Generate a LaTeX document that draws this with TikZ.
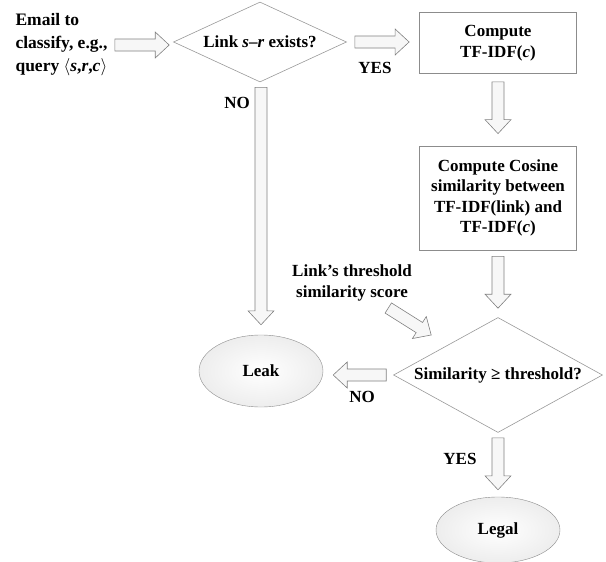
\documentclass[tikz,border=0pt]{standalone}
\usepackage{fontspec}
\setmainfont{Liberation Serif}
\usetikzlibrary{shapes.geometric,calc,positioning}

\begin{document}
\begin{tikzpicture}[
  x=1pt, y=-1pt,
  font=\fontsize{17}{20.5}\selectfont\bfseries,
  proc/.style={draw=black!45, fill=white, line width=0.8pt,
               minimum width=157pt, align=center, inner sep=2pt},
  dec/.style={diamond, draw=black!40, fill=white, line width=0.6pt,
              inner sep=0pt, align=center},
  term/.style={ellipse, draw=black!45, inner color=white, outer color=black!7,
               minimum width=124pt, inner sep=0pt},
  lbl/.style={inner sep=1pt},
  barrow/.style={draw=black!50, fill=black!3, line width=0.6pt, to path={
     let \p1=($(\tikztotarget)-(\tikztostart)$), \n1={atan2(\y1,\x1)} in
     ($(\tikztostart)+(\n1+90:6pt)$)
     -- ($(\tikztotarget)+(\n1+180:14pt)+(\n1+90:6pt)$)
     -- ($(\tikztotarget)+(\n1+180:14pt)+(\n1+90:13pt)$)
     -- (\tikztotarget)
     -- ($(\tikztotarget)+(\n1+180:14pt)+(\n1-90:13pt)$)
     -- ($(\tikztotarget)+(\n1+180:14pt)+(\n1-90:6pt)$)
     -- ($(\tikztostart)+(\n1-90:6pt)$) -- cycle}},
]
\useasboundingbox (0,0) rectangle (606,562);

% ---------------- input and first test ----------------------------------
\node[anchor=west, align=left, font=\fontsize{17.5}{23}\selectfont\bfseries]
  (email) at (12,45)
  {Email to\\classify, e.g.,\\query $\bigl\langle$\textit{s},\textit{r},\textit{c}$\bigr\rangle$};
\node[dec, aspect=2.16, minimum width=173pt, minimum height=80pt] (d1) at (260,42)
  {Link \textit{s}--\textit{r} exists?};

% ---------------- similarity branch -------------------------------------
\node[proc, minimum height=61pt] (tfidf) at (498,43) {Compute\\TF-IDF(\textit{c})};
\node[proc, minimum height=104pt] (cosine) at (498,198)
  {Compute Cosine\\similarity between\\TF-IDF(link) and\\TF-IDF(\textit{c})};
\node[dec, aspect=1.82, minimum width=209pt, minimum height=115pt] (d2) at (498,375)
  {Similarity ≥ threshold?};
\node[align=center] (thr) at (352,283) {Link's threshold\\similarity score};

% ---------------- outcomes ----------------------------------------------
\node[term, minimum height=72pt] (leak) at (261,371) {Leak};
\node[term, minimum height=66pt] (legal) at (498,530) {Legal};

% ---------------- block arrows ------------------------------------------
\coordinate (a1s) at ($(email.east)+(4,0)$);
\coordinate (a1e) at ($(d1.west |- a1s)+(-4,0)$);
\coordinate (a2s) at ($(d1.east)+(8,0)$);
\coordinate (a2e) at ($(tfidf.west |- d1.east)+(-10,0)$);
\coordinate (a3s) at ($(tfidf.south)+(0,8)$);
\coordinate (a3e) at ($(cosine.north)+(0,-12)$);
\coordinate (a4s) at ($(cosine.south)+(0,6)$);
\coordinate (a4e) at ($(d2.north)+(0,-9)$);
\coordinate (a5s) at ($(leak.north |- d1.south)+(0,5)$);
\coordinate (a5e) at ($(leak.north)+(0,-10)$);
\coordinate (a6s) at ($(d2.west)+(-7,0)$);
\coordinate (a6e) at ($(leak.east |- d2.west)+(10,0)$);
\coordinate (a7s) at ($(thr.east)+(-27,25)$);
\coordinate (a7e) at ($(d2.west)+(38,-40)$);
\coordinate (a8s) at ($(d2.south)+(0,5)$);
\coordinate (a8e) at ($(legal.north)+(0,-7)$);

\foreach \a in {1,...,8} {
  \draw[barrow] (a\a s) to (a\a e);
}

\node[lbl] (no1) at (237,103) {NO};
\node[lbl] (yes1) at (375,68) {YES};
\node[lbl] (no2) at (362,397) {NO};
\node[lbl] (yes2) at (460,459) {YES};

\end{tikzpicture}
\end{document}
